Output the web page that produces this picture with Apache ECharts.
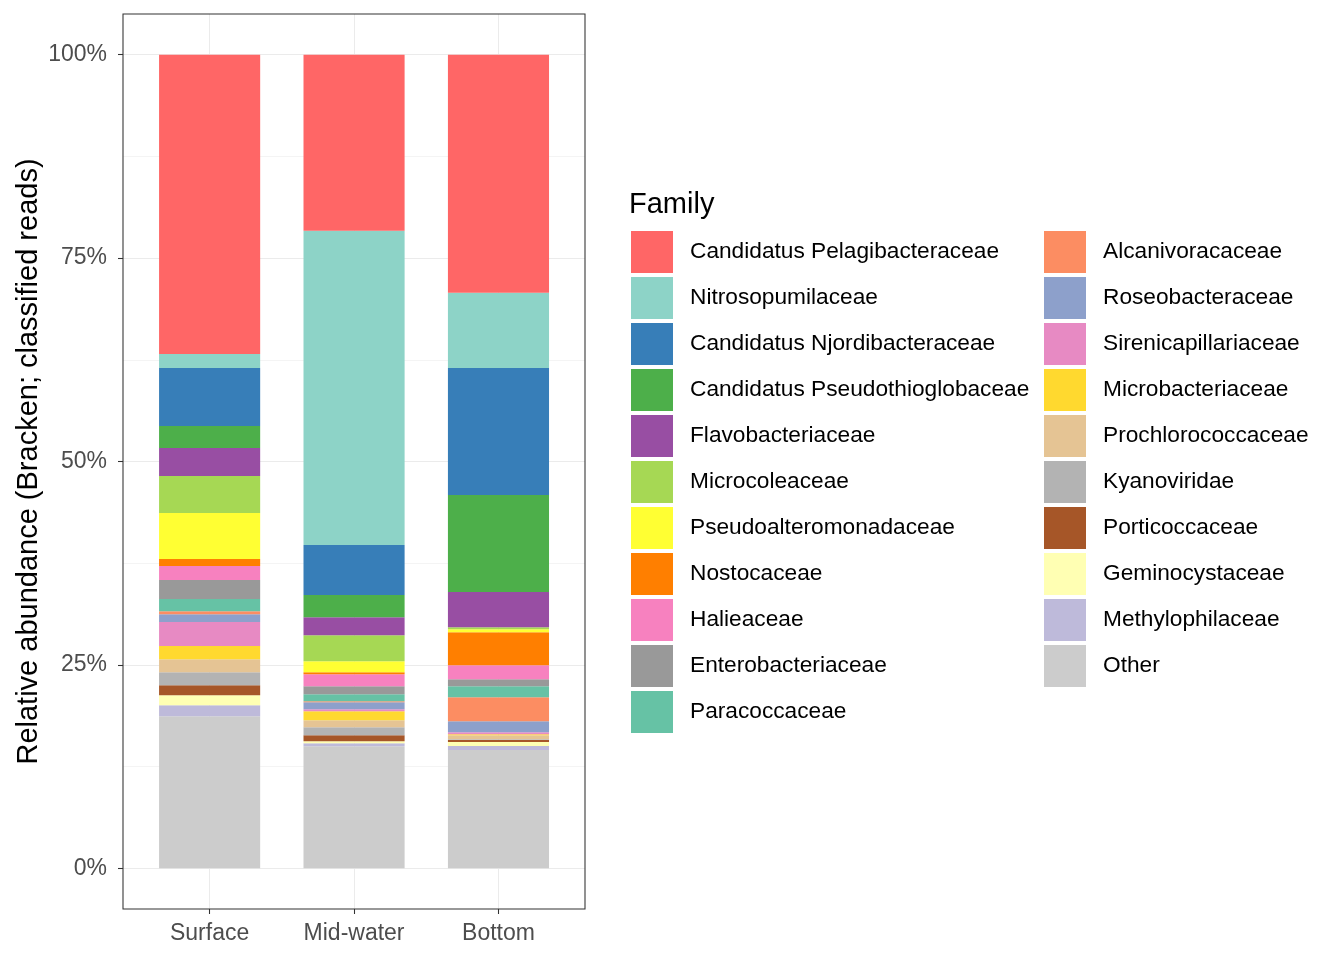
<!DOCTYPE html>
<html><head><meta charset="utf-8">
<script src="https://cdn.jsdelivr.net/npm/echarts@6/dist/echarts.min.js"></script>
<style>html,body{margin:0;padding:0;background:#fff}#c{width:1344px;height:960px}</style>
</head><body><div id="c"></div>
<script>
const categories = ['Surface', 'Mid-water', 'Bottom'];
const families = ['Candidatus Pelagibacteraceae', 'Nitrosopumilaceae', 'Candidatus Njordibacteraceae',
  'Candidatus Pseudothioglobaceae', 'Flavobacteriaceae', 'Microcoleaceae', 'Pseudoalteromonadaceae',
  'Nostocaceae', 'Halieaceae', 'Enterobacteriaceae', 'Paracoccaceae', 'Alcanivoracaceae',
  'Roseobacteraceae', 'Sirenicapillariaceae', 'Microbacteriaceae', 'Prochlorococcaceae',
  'Kyanoviridae', 'Porticoccaceae', 'Geminocystaceae', 'Methylophilaceae', 'Other'];
const colors = ['#FF6666', '#8DD3C7', '#377EB8', '#4DAF4A', '#984EA3', '#A6D854', '#FFFF33',
  '#FF7F00', '#F781BF', '#999999', '#66C2A5', '#FC8D62', '#8DA0CB', '#E78AC3', '#FFD92F',
  '#E5C494', '#B3B3B3', '#A65628', '#FFFFB3', '#BEBADA', '#CCCCCC'];
// values per family (same order as families), in percent
const surface  = [36.78, 1.72, 7.13, 2.71, 3.44, 4.55, 5.66, 0.86, 1.72, 2.34, 1.48, 0.37, 0.98, 2.95, 1.60, 1.60, 1.60, 1.23, 1.23, 1.35, 18.70];
const midwater = [21.65, 38.62, 6.15, 2.71, 2.21, 3.20, 1.35, 0.25, 1.48, 0.98, 0.86, 0.12, 0.86, 0.25, 1.11, 0.86, 0.98, 0.74, 0.25, 0.37, 15.00];
const bottom   = [29.27, 9.23, 15.62, 11.93, 4.31, 0.25, 0.37, 4.06, 1.72, 0.86, 1.35, 2.95, 1.35, 0.25, 0.12, 0.49, 0.10, 0.25, 0.49, 0.49, 14.54];
const yTicks = [0, 25, 50, 75, 100];
const yMinorTicks = [12.5, 37.5, 62.5, 87.5];
const xGridValues = [1, 2, 3];

const FONT = "'Liberation Sans', Arial, sans-serif";
const series = [];
for (let i = families.length - 1; i >= 0; i--) {
  series.push({
    name: families[i], type: 'bar', stack: 'total', barWidth: '70%',
    itemStyle: { color: colors[i] },
    data: [surface[i], midwater[i], bottom[i]],
    xAxisIndex: 0, yAxisIndex: 0, silent: true
  });
}
const chart = echarts.init(document.getElementById('c'));
const legendBase = {
  orient: 'vertical', top: 226, itemWidth: 42, itemHeight: 42, itemGap: 4, icon: 'rect',
  selectedMode: false, textStyle: { fontFamily: FONT, fontSize: 22.7, color: '#000', padding: [8, 0, 0, 12] }
};
const hidden = { axisLine: { show: false, onZero: false }, axisLabel: { show: false } };
chart.setOption({
  animation: false,
  textStyle: { fontFamily: FONT },
  title: { text: 'Family', left: 624, top: 185, textStyle: { fontFamily: FONT, fontSize: 29, fontWeight: 'normal', color: '#000' } },
  legend: [
    Object.assign({}, legendBase, { left: 626, data: families.slice(0, 11) }),
    Object.assign({}, legendBase, { left: 1039, data: families.slice(11) })
  ],
  grid: [
    { left: 137.4, right: 773.3, top: 14, bottom: 51, containLabel: false },
    { left: 123, right: 759, top: 14, bottom: 51, containLabel: false }
  ],
  xAxis: [
    { type: 'category', data: categories, position: 'bottom', gridIndex: 0,
      axisLine: { show: false, onZero: false },
      axisTick: { show: true, alignWithLabel: true, length: 5, lineStyle: { color: '#333', width: 1.07 } },
      axisLabel: { color: '#4D4D4D', fontSize: 23, margin: 13, fontFamily: FONT },
      splitLine: { show: false } },
    Object.assign({ type: 'value', min: 0.4, max: 3.6, position: 'bottom', gridIndex: 1,
      axisTick: { show: false, customValues: xGridValues },
      splitLine: { show: true, lineStyle: { color: '#EBEBEB', width: 1.07 } } }, hidden)
  ],
  yAxis: [
    { type: 'value', min: -5, max: 105, offset: 14.4, position: 'left', gridIndex: 0,
      name: 'Relative abundance (Bracken; classified reads)', nameLocation: 'middle', nameGap: 80,
      nameTextStyle: { fontSize: 29, color: '#000', fontFamily: FONT },
      axisLine: { show: false, onZero: false },
      axisTick: { show: true, customValues: yTicks, length: 5, lineStyle: { color: '#333', width: 1.07 } },
      axisLabel: { customValues: yTicks, formatter: '{value}%', color: '#4D4D4D', fontSize: 23, margin: 16, fontFamily: FONT, padding: [6, 0, 0, 0] },
      splitLine: { show: false } },
    Object.assign({ type: 'value', min: -5, max: 105, position: 'left', gridIndex: 1,
      axisTick: { show: false, customValues: yTicks },
      splitLine: { show: true, lineStyle: { color: '#EBEBEB', width: 1.07 } } }, hidden),
    Object.assign({ type: 'value', min: -5, max: 105, position: 'left', gridIndex: 1,
      axisTick: { show: false, customValues: yMinorTicks },
      splitLine: { show: true, lineStyle: { color: '#EBEBEB', width: 0.55 } } }, hidden)
  ],
  graphic: [
    { type: 'rect', z: 100, silent: true, shape: { x: 123, y: 14, width: 462, height: 895 },
      style: { fill: 'none', stroke: '#333333', lineWidth: 1.07 } }
  ],
  series: series
});
</script></body></html>
